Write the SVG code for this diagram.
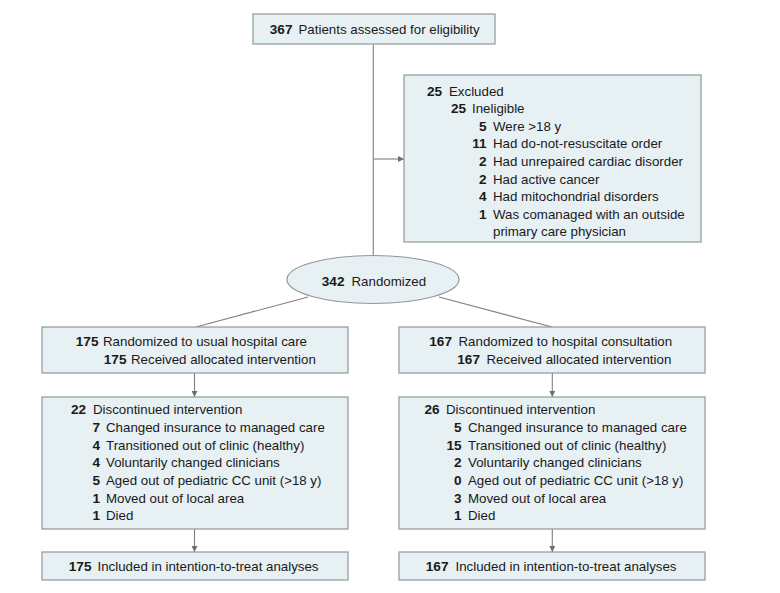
<svg xmlns="http://www.w3.org/2000/svg" width="780" height="593" viewBox="0 0 780 593">
<defs>
<marker id="ah" viewBox="0 0 10 10" refX="10" refY="5" markerWidth="7" markerHeight="6" markerUnits="userSpaceOnUse" orient="auto">
<path d="M0,0 L10,5 L0,10 z" fill="#6f6f6f"/>
</marker>
<style>
.box{fill:#e7f0f3;stroke:#8f989c;stroke-width:1.2}
.t{font-family:"Liberation Sans",Arial,sans-serif;font-size:13.3px;fill:#1a1a1a}
.n{font-family:"Liberation Sans",Arial,sans-serif;font-size:13.6px;font-weight:bold;fill:#1a1a1a;text-anchor:end}
.ln{fill:none;stroke:#808080;stroke-width:1.1}
</style>
</defs>
<rect width="780" height="593" fill="#ffffff"/>

<g id="connectors">
<line class="ln" x1="373.3" y1="44.5" x2="373.3" y2="255.5"/>
<line class="ln" x1="373.3" y1="159" x2="404" y2="159" marker-end="url(#ah)"/>
<line class="ln" x1="308" y1="297" x2="196" y2="327"/>
<line class="ln" x1="439" y1="297" x2="552" y2="327"/>
<line class="ln" x1="194.5" y1="373" x2="194.5" y2="397" marker-end="url(#ah)"/>
<line class="ln" x1="552.3" y1="373" x2="552.3" y2="397" marker-end="url(#ah)"/>
<line class="ln" x1="194.5" y1="529" x2="194.5" y2="552" marker-end="url(#ah)"/>
<line class="ln" x1="552.3" y1="529" x2="552.3" y2="552" marker-end="url(#ah)"/>
</g>

<g id="assessed">
<rect class="box" x="253" y="14" width="242" height="30"/>
<text class="n" x="292.5" y="33.5">367</text>
<text class="t" x="298.5" y="33.5">Patients assessed for eligibility</text>
</g>

<g id="excluded">
<rect class="box" x="404" y="75" width="297" height="167"/>
<text class="n" x="442" y="95.5">25</text><text class="t" x="449" y="95.5">Excluded</text>
<text class="n" x="466" y="113.1">25</text><text class="t" x="472" y="113.1">Ineligible</text>
<text class="n" x="486.5" y="130.7">5</text><text class="t" x="493" y="130.7">Were &gt;18 y</text>
<text class="n" x="486.5" y="148.3">11</text><text class="t" x="493" y="148.3">Had do-not-resuscitate order</text>
<text class="n" x="486.5" y="165.9">2</text><text class="t" x="493" y="165.9">Had unrepaired cardiac disorder</text>
<text class="n" x="486.5" y="183.5">2</text><text class="t" x="493" y="183.5">Had active cancer</text>
<text class="n" x="486.5" y="201.1">4</text><text class="t" x="493" y="201.1">Had mitochondrial disorders</text>
<text class="n" x="486.5" y="218.7">1</text><text class="t" x="493" y="218.7">Was comanaged with an outside</text>
<text class="t" x="493" y="235.5">primary care physician</text>
</g>

<g id="randomized">
<ellipse class="box" cx="373" cy="279.5" rx="86" ry="24"/>
<text class="n" x="344.5" y="285.5">342</text>
<text class="t" x="351.5" y="285.5">Randomized</text>
</g>

<g id="usual-care">
<rect class="box" x="42" y="327" width="306" height="46"/>
<text class="n" x="98.5" y="346">175</text><text class="t" x="103" y="346">Randomized to usual hospital care</text>
<text class="n" x="126.5" y="364">175</text><text class="t" x="131" y="364">Received allocated intervention</text>
</g>

<g id="consultation">
<rect class="box" x="399" y="327" width="306" height="46"/>
<text class="n" x="452" y="346">167</text><text class="t" x="458.5" y="346">Randomized to hospital consultation</text>
<text class="n" x="480" y="364">167</text><text class="t" x="486.5" y="364">Received allocated intervention</text>
</g>

<g id="discontinued-left">
<rect class="box" x="42" y="397" width="306" height="132"/>
<text class="n" x="86" y="414.3">22</text><text class="t" x="93" y="414.3">Discontinued intervention</text>
<text class="n" x="100" y="432">7</text><text class="t" x="106" y="432">Changed insurance to managed care</text>
<text class="n" x="100" y="449.7">4</text><text class="t" x="106" y="449.7">Transitioned out of clinic (healthy)</text>
<text class="n" x="100" y="467.3">4</text><text class="t" x="106" y="467.3">Voluntarily changed clinicians</text>
<text class="n" x="100" y="485">5</text><text class="t" x="106" y="485">Aged out of pediatric CC unit (&gt;18 y)</text>
<text class="n" x="100" y="502.7">1</text><text class="t" x="106" y="502.7">Moved out of local area</text>
<text class="n" x="100" y="520.3">1</text><text class="t" x="106" y="520.3">Died</text>
</g>

<g id="discontinued-right">
<rect class="box" x="399" y="397" width="306" height="132"/>
<text class="n" x="439.5" y="414.3">26</text><text class="t" x="446" y="414.3">Discontinued intervention</text>
<text class="n" x="461.5" y="432">5</text><text class="t" x="468" y="432">Changed insurance to managed care</text>
<text class="n" x="461.5" y="449.7">15</text><text class="t" x="468" y="449.7">Transitioned out of clinic (healthy)</text>
<text class="n" x="461.5" y="467.3">2</text><text class="t" x="468" y="467.3">Voluntarily changed clinicians</text>
<text class="n" x="461.5" y="485">0</text><text class="t" x="468" y="485">Aged out of pediatric CC unit (&gt;18 y)</text>
<text class="n" x="461.5" y="502.7">3</text><text class="t" x="468" y="502.7">Moved out of local area</text>
<text class="n" x="461.5" y="520.3">1</text><text class="t" x="468" y="520.3">Died</text>
</g>

<g id="itt-left">
<rect class="box" x="42" y="552" width="306" height="28"/>
<text class="n" x="91.5" y="571">175</text><text class="t" x="97.5" y="571">Included in intention-to-treat analyses</text>
</g>

<g id="itt-right">
<rect class="box" x="399" y="552" width="306" height="28"/>
<text class="n" x="448.5" y="571">167</text><text class="t" x="455.5" y="571">Included in intention-to-treat analyses</text>
</g>
</svg>
